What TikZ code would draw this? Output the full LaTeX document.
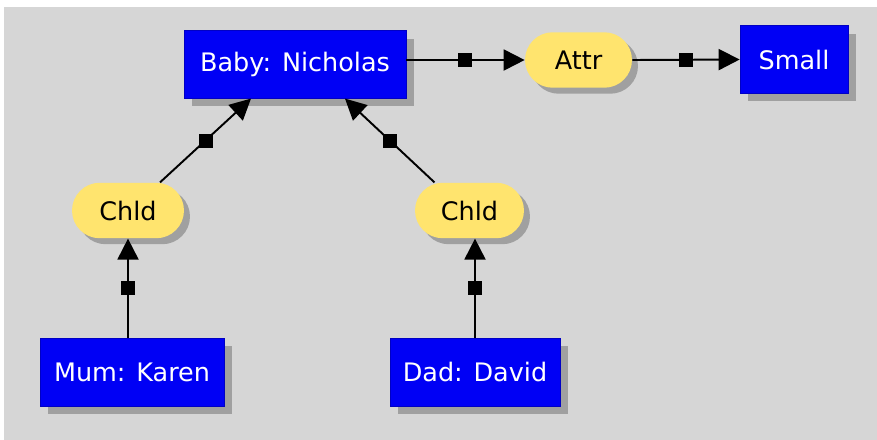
\documentclass[tikz,border=0pt]{standalone}
\usepackage{fontspec}
\setmainfont{DejaVu Sans}
\usetikzlibrary{shapes.misc,arrows.meta,shadows}
\definecolor{bg}{RGB}{214,214,214}
\definecolor{boxblue}{RGB}{0,0,245}
\definecolor{relyellow}{RGB}{255,228,110}
\definecolor{shade}{RGB}{160,160,160}
\tikzset{
  concept/.style={rectangle, fill=boxblue, draw=boxblue!80!black, line width=0.4pt,
    text=white, font=\fontsize{14.5}{16}\selectfont, inner sep=0pt,
    minimum height=1.35cm,
    drop shadow={fill=shade, opacity=1, shadow xshift=0.16cm, shadow yshift=-0.16cm}},
  relation/.style={rounded rectangle, fill=relyellow, draw=none,
    text=black, font=\fontsize{14.5}{16}\selectfont, inner sep=0pt,
    minimum height=1.11cm,
    drop shadow={fill=shade, opacity=1, shadow xshift=0.12cm, shadow yshift=-0.12cm}},
  link/.style={draw=black, line width=1.1pt, -{Triangle[length=0.42cm, width=0.42cm]}},
  sq/.style={rectangle, fill=black, inner sep=0pt, minimum size=0.28cm}
}
\begin{document}
\begin{tikzpicture}[x=0.02cm, y=-0.02cm]
\useasboundingbox (0,0) rectangle (877,440);
\fill[bg] (4,7) rectangle (877,440);

\node[concept, minimum width=4.44cm] (baby) at (295,64.5) {Baby: Nicholas};
\node[relation, minimum width=2.14cm] (attr) at (578.5,60) {Attr};
\node[concept, minimum width=2.16cm] (small) at (794,59.5) {Small};
\node[relation, minimum width=2.24cm] (chl) at (128,210.5) {Chld};
\node[relation, minimum width=2.18cm] (chr) at (469.5,210.5) {Chld};
\node[concept, minimum width=3.68cm, minimum height=1.36cm] (mum) at (132,372) {Mum: Karen};
\node[concept, minimum width=3.40cm, minimum height=1.36cm] (dad) at (475,372) {Dad: David};

\draw[link] (baby.east |- attr.west) -- node[sq] (s1) {} (attr.west);
\draw[link] (attr.east) -- node[sq] (s2) {} (small.west);
\draw[link] ([xshift=0.64cm]chl.north) -- node[sq] (s3) {} ([xshift=-0.88cm]baby.south);
\draw[link] ([xshift=-0.7cm]chr.north) -- node[sq] (s4) {} ([xshift=1.0cm]baby.south);
\draw[link] (mum.north -| chl.south) -- node[sq] (s5) {} (chl.south);
\draw[link] (dad.north) -- node[sq] (s6) {} (dad.north |- chr.south);
\end{tikzpicture}
\end{document}
